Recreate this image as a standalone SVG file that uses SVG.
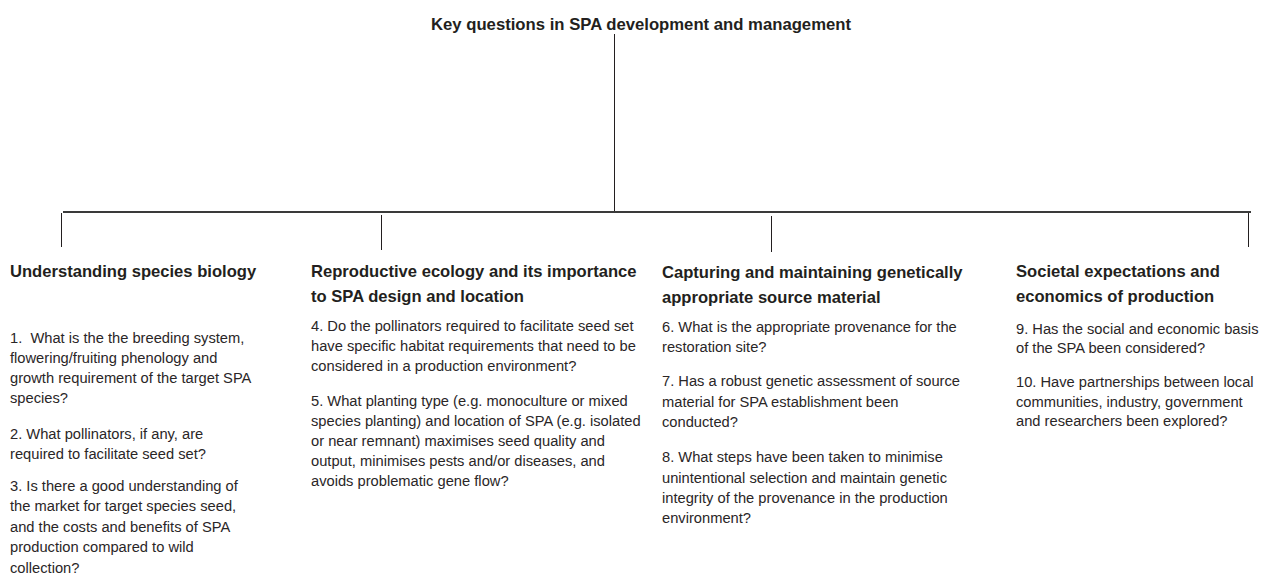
<svg xmlns="http://www.w3.org/2000/svg" width="1262" height="582" viewBox="0 0 1262 582">
<style>
  .bg { fill: #ffffff; }
  .title { font-family: "Liberation Sans", Arial, sans-serif; font-weight: bold; font-size: 16.7px; fill: #231f20; }
  .head { font-family: "Liberation Sans", Arial, sans-serif; font-weight: bold; font-size: 16.6px; fill: #231f20; }
  .body { font-family: "Liberation Sans", Arial, sans-serif; font-size: 14.7px; fill: #2a2627; }
  .conn { stroke: #231f20; stroke-width: 1; fill: none; }
  .bar { stroke: #3a3a3a; stroke-width: 2; fill: none; }
</style>
<rect class="bg" x="0" y="0" width="1262" height="582"/>

<g id="connectors">
  <line class="conn" x1="614.5" y1="34" x2="614.5" y2="212"/>
  <line class="bar" x1="63" y1="212" x2="1251" y2="212"/>
  <line class="conn" x1="61.5" y1="213" x2="61.5" y2="247"/>
  <line class="conn" x1="381.5" y1="215" x2="381.5" y2="250"/>
  <line class="conn" x1="771.5" y1="216" x2="771.5" y2="252"/>
  <line class="conn" x1="1248.5" y1="213" x2="1248.5" y2="247"/>
</g>

<g id="root">
  <text class="title" x="641" y="30" text-anchor="middle">Key questions in SPA development and management</text>
</g>

<g id="species-biology">
  <text class="head" x="10" y="277">Understanding species biology</text>
  <text class="body" x="10" xml:space="preserve"><tspan x="10" y="343">1.  What is the the breeding system,</tspan><tspan x="10" y="363">flowering/fruiting phenology and</tspan><tspan x="10" y="383">growth requirement of the target SPA</tspan><tspan x="10" y="403">species?</tspan><tspan x="10" y="439">2. What pollinators, if any, are</tspan><tspan x="10" y="459">required to facilitate seed set?</tspan><tspan x="10" y="491">3. Is there a good understanding of</tspan><tspan x="10" y="511">the market for target species seed,</tspan><tspan x="10" y="532">and the costs and benefits of SPA</tspan><tspan x="10" y="552">production compared to wild</tspan><tspan x="10" y="573">collection?</tspan></text>
</g>

<g id="reproductive-ecology">
  <text class="head"><tspan x="311" y="277">Reproductive ecology and its importance</tspan><tspan x="311" y="302">to SPA design and location</tspan></text>
  <text class="body"><tspan x="311" y="331">4. Do the pollinators required to facilitate seed set</tspan><tspan x="311" y="351">have specific habitat requirements that need to be</tspan><tspan x="311" y="371">considered in a production environment?</tspan><tspan x="311" y="406">5. What planting type (e.g. monoculture or mixed</tspan><tspan x="311" y="426">species planting) and location of SPA (e.g. isolated</tspan><tspan x="311" y="446">or near remnant) maximises seed quality and</tspan><tspan x="311" y="466">output, minimises pests and/or diseases, and</tspan><tspan x="311" y="486">avoids problematic gene flow?</tspan></text>
</g>

<g id="genetic-source-material">
  <text class="head"><tspan x="662" y="278">Capturing and maintaining genetically</tspan><tspan x="662" y="303">appropriate source material</tspan></text>
  <text class="body"><tspan x="662" y="332">6. What is the appropriate provenance for the</tspan><tspan x="662" y="352">restoration site?</tspan><tspan x="662" y="386">7. Has a robust genetic assessment of source</tspan><tspan x="662" y="407">material for SPA establishment been</tspan><tspan x="662" y="427">conducted?</tspan><tspan x="662" y="462">8. What steps have been taken to minimise</tspan><tspan x="662" y="483">unintentional selection and maintain genetic</tspan><tspan x="662" y="503">integrity of the provenance in the production</tspan><tspan x="662" y="523">environment?</tspan></text>
</g>

<g id="societal-economics">
  <text class="head"><tspan x="1016" y="277">Societal expectations and</tspan><tspan x="1016" y="302">economics of production</tspan></text>
  <text class="body"><tspan x="1016" y="334">9. Has the social and economic basis</tspan><tspan x="1016" y="353">of the SPA been considered?</tspan><tspan x="1016" y="387">10. Have partnerships between local</tspan><tspan x="1016" y="407">communities, industry, government</tspan><tspan x="1016" y="426">and researchers been explored?</tspan></text>
</g>
</svg>
